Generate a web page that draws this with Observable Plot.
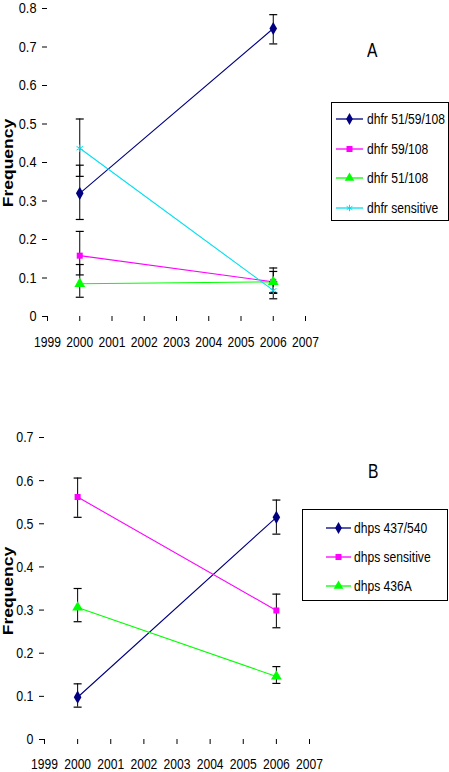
<!DOCTYPE html>
<html>
<head>
<meta charset="utf-8">
<script src="https://cdn.jsdelivr.net/npm/d3@7"></script>
<script src="https://cdn.jsdelivr.net/npm/@observablehq/plot@0.6"></script>
<style>
  html, body { margin: 0; padding: 0; background: #fff; }
  #wrap { position: relative; width: 449px; height: 772px; overflow: hidden;
          font-family: "Liberation Sans", Arial, sans-serif; }
  .panel { position: absolute; left: 0; }
  .ylab { position: absolute; font-weight: bold; font-size: 14px; line-height: 1; white-space: nowrap; }
  .tag { position: absolute; font-size: 20px; line-height: 1; transform: scaleX(0.78); transform-origin: left top; }
  .legend { position: absolute; border: 1px solid #000; background: #fff; box-sizing: border-box; }
  .row { position: absolute; left: 0; display: flex; align-items: center; height: 20px; }
  .row span { font-size: 15.5px; white-space: nowrap; color: #000; display: inline-block;
              transform: scaleX(0.78); transform-origin: left center; }
</style>
</head>
<body>
<div id="wrap"></div>
<script>
// ---------- Data ----------
const xTicks = [1999, 2000, 2001, 2002, 2003, 2004, 2005, 2006, 2007];
const years = [2000, 2006];

// Panel A (dhfr)
const seriesA = ["dhfr 51/59/108", "dhfr 59/108", "dhfr 51/108", "dhfr sensitive"];
const valuesA = [[0.32, 0.748], [0.158, 0.09], [0.085, 0.09], [0.437, 0.068]];
const lowA    = [[0.252, 0.708], [0.108, 0.062], [0.05, 0.06], [0.364, 0.046]];
const highA   = [[0.393, 0.784], [0.221, 0.117], [0.135, 0.126], [0.513, 0.09]];
const yTicksA = [0, 0.1, 0.2, 0.3, 0.4, 0.5, 0.6, 0.7, 0.8];

// Panel B (dhps)
const seriesB = ["dhps 437/540", "dhps sensitive", "dhps 436A"];
const valuesB = [[0.098, 0.515], [0.562, 0.299], [0.306, 0.146]];
const lowB    = [[0.075, 0.476], [0.515, 0.259], [0.273, 0.130]];
const highB   = [[0.129, 0.555], [0.606, 0.337], [0.350, 0.169]];
const yTicksB = [0, 0.1, 0.2, 0.3, 0.4, 0.5, 0.6, 0.7];

// styles
const colorsA = ["#000080", "#ff00ff", "#00ff00", "#00e0f0"];
const symbolsA = ["diamond", "square", "triangle", "asterisk"];
const colorsB = ["#000080", "#ff00ff", "#00ff00"];
const symbolsB = ["diamond", "square", "triangle"];

// ---------- helpers ----------
const capSymbol = {
  draw(ctx, size) {
    const r = Math.sqrt(size / Math.PI);
    ctx.moveTo(-r, 0); ctx.lineTo(r, 0);
  }
};
function rows(series, values, low, high) {
  const out = [];
  series.forEach((s, i) => years.forEach((yr, j) => out.push({
    series: s, idx: i, year: yr, value: values[i][j], lo: low[i][j], hi: high[i][j]
  })));
  return out;
}
const fmt = d => d === 0 ? "0" : d.toFixed(1);
const FONT = '"Liberation Sans", Arial, sans-serif';

// horizontally condense tick labels (after the svg is in the document)
function squeezeText(svg, axis, sx) {
  svg.querySelectorAll(`g[aria-label="${axis}-axis tick label"] text`).forEach(t => {
    const L = t.getComputedTextLength();
    if (L > 0) {
      t.setAttribute("textLength", (L * sx).toFixed(2));
      t.setAttribute("lengthAdjust", "spacingAndGlyphs");
    }
  });
}

function panel(opts) {
  const data = rows(opts.series, opts.values, opts.low, opts.high);
  const marks = [
    Plot.axisY({ticks: opts.yTicks, tickFormat: fmt, tickSize: 5, tickPadding: opts.yPad,
                 label: null, fontSize: opts.yFont, line: true, stroke: "#000"}),
    Plot.axisX({ticks: xTicks, tickFormat: d => String(d), tickSize: 5, tickPadding: opts.xPad,
                label: null, fontSize: opts.xFont, line: true, stroke: "#000"})
  ];
  opts.series.forEach((s, i) => {
    const d = data.filter(r => r.idx === i);
    marks.push(Plot.line(d, {x: "year", y: "value", stroke: opts.colors[i], strokeWidth: 1.1}));
  });
  opts.series.forEach((s, i) => {
    const d = data.filter(r => r.idx === i);
    marks.push(Plot.ruleX(d, {x: "year", y1: "lo", y2: "hi", stroke: "#000", strokeWidth: 1}));
    marks.push(Plot.dot(d, {x: "year", y: "lo", symbol: capSymbol, r: 4, stroke: "#000", strokeWidth: 1.2}));
    marks.push(Plot.dot(d, {x: "year", y: "hi", symbol: capSymbol, r: 4, stroke: "#000", strokeWidth: 1.2}));
  });
  opts.series.forEach((s, i) => {
    const d = data.filter(r => r.idx === i);
    const sym = opts.symbols[i];
    if (sym === "asterisk") {
      marks.push(Plot.dot(d, {x: "year", y: "value", symbol: sym, r: 3.5, stroke: opts.colors[i], strokeWidth: 1}));
    } else {
      marks.push(Plot.dot(d, {x: "year", y: "value", symbol: sym, r: sym === "square" ? 3.4 : 4,
                              fill: opts.colors[i], stroke: "none"}));
    }
  });
  return Plot.plot({
    width: 449, height: opts.height,
    marginLeft: opts.ml, marginRight: opts.mr, marginTop: opts.mt, marginBottom: opts.mb,
    x: {domain: [1999, 2007]},
    y: {domain: opts.yDomain},
    style: {fontFamily: FONT, color: "#000", background: "transparent", overflow: "visible"},
    marks
  });
}

function legendBox(parent, box, series, colors, symbols) {
  const lg = document.createElement("div");
  lg.className = "legend";
  Object.assign(lg.style, {left: box.left + "px", top: box.top + "px", width: box.width + "px", height: box.height + "px"});
  series.forEach((s, i) => {
    const row = document.createElement("div");
    row.className = "row";
    row.style.top = (box.first + i * box.step - 10) + "px";
    row.style.left = box.swLeft + "px";
    const sw = d3.create("svg").attr("width", box.swWidth).attr("height", 20);
    sw.append("line").attr("x1", 0).attr("x2", box.swWidth).attr("y1", 10).attr("y2", 10)
      .attr("stroke", colors[i]).attr("stroke-width", 1.3);
    const symMap = {diamond: d3.symbolDiamond, square: d3.symbolSquare, triangle: d3.symbolTriangle, asterisk: d3.symbolAsterisk};
    const sym = symbols[i];
    const size = sym === "square" ? 36 : sym === "asterisk" ? 30 : 40;
    const p = sw.append("path").attr("d", d3.symbol(symMap[sym], size)())
      .attr("transform", `translate(${box.swWidth / 2},10)`);
    if (sym === "asterisk") p.attr("fill", "none").attr("stroke", colors[i]);
    else p.attr("fill", colors[i]);
    row.appendChild(sw.node());
    const t = document.createElement("span");
    t.textContent = s;
    t.style.marginLeft = box.gap + "px";
    row.appendChild(t);
    lg.appendChild(row);
  });
  parent.appendChild(lg);
}

function addText(parent, cls, text, css) {
  const el = document.createElement("div");
  el.className = cls;
  el.textContent = text;
  Object.assign(el.style, css);
  parent.appendChild(el);
  return el;
}

const wrap = document.getElementById("wrap");

// Panel A
const pa = document.createElement("div");
pa.className = "panel"; pa.style.top = "0px";
const svgA = panel({series: seriesA, values: valuesA, low: lowA, high: highA, colors: colorsA, symbols: symbolsA,
  yTicks: yTicksA, yDomain: [0, 0.8], height: 360, ml: 47, mr: 144, mt: 8, mb: 44,
  yPad: 6, xPad: 15, yFont: 15, xFont: 14.4});
pa.appendChild(svgA);
wrap.appendChild(pa);
squeezeText(svgA, "x", 0.84);
squeezeText(svgA, "y", 0.85);

// Panel B
const pb = document.createElement("div");
pb.className = "panel"; pb.style.top = "360px";
const svgB = panel({series: seriesB, values: valuesB, low: lowB, high: highB, colors: colorsB, symbols: symbolsB,
  yTicks: yTicksB, yDomain: [0, 0.7], height: 412, ml: 44, mr: 140, mt: 77, mb: 33,
  yPad: 6, xPad: 14, yFont: 15.5, xFont: 14.4});
pb.appendChild(svgB);
wrap.appendChild(pb);
squeezeText(svgB, "x", 0.84);
squeezeText(svgB, "y", 0.8);

// Axis titles (rotated)
const fA = addText(wrap, "ylab", "Frequency", {left: "0px", top: "0px"});
const fB = addText(wrap, "ylab", "Frequency", {left: "0px", top: "0px"});
function placeRot(el, cx, cy) {
  const w = el.offsetWidth, h = el.offsetHeight;
  el.style.left = (cx - w / 2) + "px";
  el.style.top = (cy - h / 2) + "px";
  el.style.transform = "rotate(-90deg) scaleX(1.25)";
}
placeRot(fA, 8, 163);
placeRot(fB, 8, 591);

// Panel tags
addText(wrap, "tag", "A", {left: "367px", top: "40px"});
addText(wrap, "tag", "B", {left: "368px", top: "461px"});

// Legends
legendBox(wrap, {left: 331, top: 102, width: 118, height: 119, first: 16, step: 29.7, swLeft: 4, swWidth: 27, gap: 4},
  seriesA, colorsA, symbolsA);
legendBox(wrap, {left: 302, top: 509, width: 146, height: 92, first: 18, step: 29, swLeft: 23, swWidth: 25, gap: 3},
  seriesB, colorsB, symbolsB);
</script>
</body>
</html>
